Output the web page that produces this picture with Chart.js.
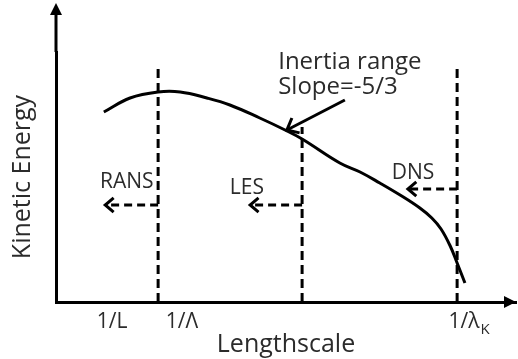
<!DOCTYPE html>
<html lang="en">
<head>
<meta charset="UTF-8">
<title>Turbulence energy spectrum</title>
<script src="https://cdn.jsdelivr.net/npm/chart.js"></script>
<style>
  html, body { margin: 0; padding: 0; background: #fff; }
  #wrap { width: 518px; height: 359px; }
</style>
</head>
<body>
<div id="wrap"><canvas id="spectrum"></canvas></div>
<script>
  // energy spectrum curve (x: lengthscale, y: kinetic energy, arbitrary units)
  const curveX = [10.4, 16.1, 22.2, 27.0, 32.8, 37.8, 44.3, 49.8, 53.5, 61.7, 66.1, 70.4, 74.8, 79.1, 81.7, 83.7, 85.7, 87.2, 88.9];
  const curveY = [76.0, 81.6, 84.0, 84.0, 81.6, 78.8, 73.6, 68.8, 65.2, 55.6, 52.0, 47.6, 42.8, 37.6, 33.6, 29.2, 22.4, 15.6, 7.6];

  // cutoff lines 1/Λ, LES filter, 1/λK
  const cutoffX = [22.2, 53.5, 87.2];
  const cutoffTop = [94.0, 70.0, 93.6];

  // modelled range arrows
  const modelNames = ['RANS', 'LES', 'DNS'];
  const modelLevel = [38.8, 38.8, 45.2];
  const modelReach = [10.7, 42.2, 76.5];

  const tickValues = [12.2, 27.4, 88.7];
  const tickLabels = ['1/L', '1/Λ', '1/λ'];

  const ink = '#000';
  const textInk = '#2b2b2b';
  const family = '"Open Sans", sans-serif';

  const datasets = [{
    data: curveX.map((x, i) => ({ x: x, y: curveY[i] })),
    borderColor: ink,
    borderWidth: 3,
    pointRadius: 0,
    tension: 0.4
  }];
  cutoffX.forEach((x, i) => {
    datasets.push({
      data: [{ x: x, y: 0 }, { x: x, y: cutoffTop[i] }],
      borderColor: ink, borderWidth: 3, borderDash: [9, 5], pointRadius: 0
    });
  });
  modelNames.forEach((name, i) => {
    datasets.push({
      data: [{ x: cutoffX[i], y: modelLevel[i] }, { x: modelReach[i], y: modelLevel[i] }],
      borderColor: ink, borderWidth: 3, borderDash: [8, 5], pointRadius: 0,
      arrowTip: true
    });
  });

  function chevron(ctx, x, y, angle, len) {
    ctx.beginPath();
    ctx.moveTo(x + len * Math.cos(angle + 0.7), y + len * Math.sin(angle + 0.7));
    ctx.lineTo(x, y);
    ctx.lineTo(x + len * Math.cos(angle - 0.7), y + len * Math.sin(angle - 0.7));
    ctx.stroke();
  }

  const sketch = {
    id: 'sketch',
    afterDatasetsDraw(chart) {
      const ctx = chart.ctx;
      const xs = chart.scales.x, ys = chart.scales.y;
      const area = chart.chartArea;
      const px = v => xs.getPixelForValue(v);
      const py = v => ys.getPixelForValue(v);
      ctx.save();
      ctx.strokeStyle = ink;
      ctx.fillStyle = ink;
      ctx.lineWidth = 3;
      ctx.setLineDash([]);

      // arrowheads on the model range arrows
      chart.data.datasets.forEach((ds, i) => {
        if (!ds.arrowTip) return;
        const pts = chart.getDatasetMeta(i).data;
        const a = pts[0], b = pts[1];
        const ang = Math.atan2(a.y - b.y, a.x - b.x);
        chevron(ctx, b.x, b.y, ang, 11);
      });

      // axis arrows
      ctx.beginPath();
      ctx.moveTo(area.left, area.top);
      ctx.lineTo(area.left, 12);
      ctx.stroke();
      ctx.beginPath();
      ctx.moveTo(area.left, 3);
      ctx.lineTo(area.left - 6, 15);
      ctx.lineTo(area.left + 6, 15);
      ctx.closePath();
      ctx.fill();
      ctx.beginPath();
      ctx.moveTo(area.right, area.bottom);
      ctx.lineTo(area.right - 12, area.bottom - 6);
      ctx.lineTo(area.right - 12, area.bottom + 6);
      ctx.closePath();
      ctx.fill();

      // inertia range annotation
      ctx.beginPath();
      ctx.moveTo(px(62.8), py(80.8));
      ctx.lineTo(px(50.2), py(68.8));
      ctx.stroke();
      chevron(ctx, px(50.2), py(68.8), Math.atan2(py(80.8) - py(68.8), px(62.8) - px(50.2)), 13);

      ctx.fillStyle = textInk;
      ctx.textAlign = 'left';
      ctx.textBaseline = 'middle';
      ctx.font = '24px ' + family;
      ctx.fillText('Inertia range', px(48.3), py(96));
      ctx.fillText('Slope=-5/3', px(48.3), py(86));

      ctx.textAlign = 'center';
      ctx.font = '21px ' + family;
      const labelAt = [[15.4, 48.0], [41.5, 45.6], [77.6, 51.6]];
      modelNames.forEach((name, i) => {
        ctx.fillText(name, px(labelAt[i][0]), py(labelAt[i][1]));
      });

      // subscript K on the Kolmogorov tick
      ctx.font = '21px ' + family;
      const w = ctx.measureText(tickLabels[2]).width;
      ctx.font = '15px ' + family;
      ctx.textAlign = 'left';
      ctx.fillText('K', px(tickValues[2]) + w / 2 + 1, 330);
      ctx.restore();
    }
  };

  new Chart(document.getElementById('spectrum'), {
    type: 'line',
    data: { datasets: datasets },
    options: {
      responsive: true,
      maintainAspectRatio: false,
      animation: false,
      layout: { padding: { top: 52, right: 2 } },
      plugins: { legend: { display: false }, tooltip: { enabled: false } },
      scales: {
        x: {
          type: 'linear', min: 0, max: 100,
          afterFit: s => { s.height = 57; },
          afterBuildTicks: s => { s.ticks = tickValues.map(v => ({ value: v })); },
          grid: { display: false, drawTicks: false },
          border: { display: true, color: ink, width: 3 },
          ticks: {
            autoSkip: false, maxRotation: 0, padding: 7, color: textInk,
            font: { family: family, size: 21 },
            callback: v => tickLabels[tickValues.indexOf(v)]
          },
          title: {
            display: true, text: 'Lengthscale', color: textInk,
            font: { family: family, size: 25 }, padding: { top: 0, bottom: -1 }
          }
        },
        y: {
          type: 'linear', min: 0, max: 100,
          afterFit: s => { s.width = 56; },
          grid: { display: false, drawTicks: false },
          border: { display: true, color: ink, width: 3 },
          ticks: { display: false },
          title: {
            display: true, text: 'Kinetic Energy', color: textInk,
            font: { family: family, size: 25 }, padding: { top: 8, bottom: 0 }
          }
        }
      }
    },
    plugins: [sketch]
  });
</script>
</body>
</html>
